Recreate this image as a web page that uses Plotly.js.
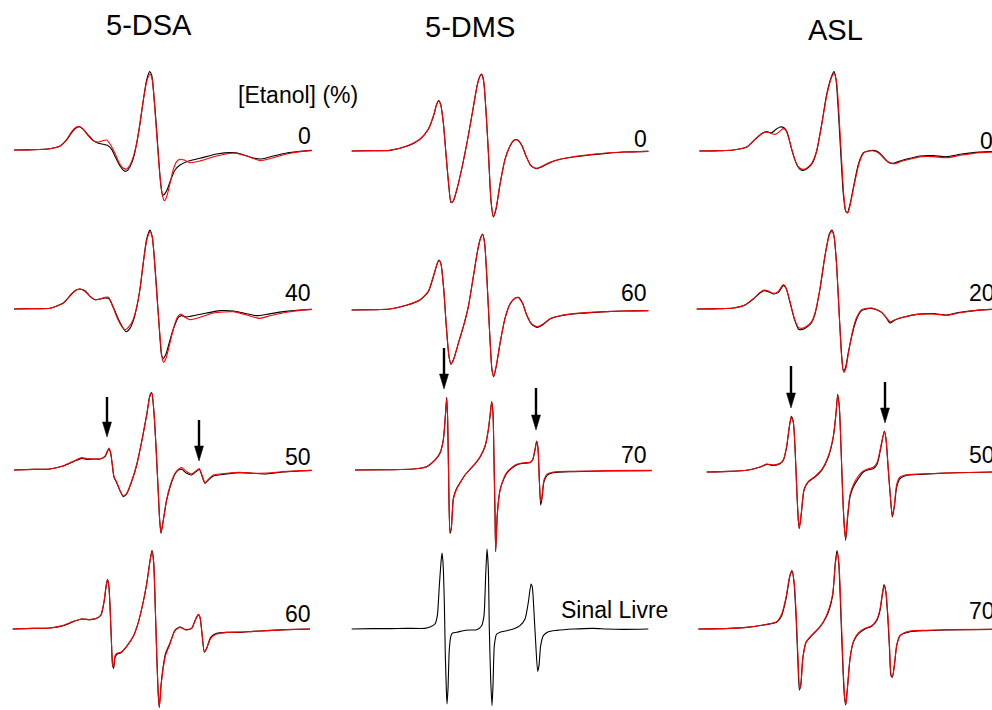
<!DOCTYPE html>
<html><head><meta charset="utf-8">
<script src="https://cdn.plot.ly/plotly-3.0.1.min.js"></script>
<style>html,body{margin:0;padding:0;background:#fff}#chart{width:992px;height:710px}</style>
</head><body><div id="chart"></div>
<script>
// EPR spectra: [campo (u.a.), intensidade (u.a.)] — exp = experimental (preto), fit = simulação (vermelho)
const dsa0_exp = [[42,0],[100,1],[150,4],[180,12],[200,30],[215,52],[228,66],[238,70],[250,62],[265,45],[280,28],[295,20],[310,17],[322,14],[335,2],[348,-25],[360,-48],[372,-62],[380,-63],[390,-50],[400,-25],[410,20],[420,80],[430,150],[440,210],[449,235],[455,225],[462,160],[470,60],[477,-40],[483,-110],[488,-135],[494,-132],[502,-118],[512,-90],[525,-60],[540,-45],[560,-35],[600,-25],[650,-12],[700,-8],[730,-14],[760,-24],[785,-27],[820,-18],[860,-9],[900,-4],[935,-1]];
const dsa0_fit = [[42,0],[100,1],[150,4],[180,12],[200,32],[215,55],[228,68],[238,70],[250,62],[265,42],[280,28],[295,24],[308,28],[320,30],[330,18],[345,-10],[358,-40],[370,-55],[380,-57],[390,-45],[400,-20],[410,20],[420,80],[430,150],[440,205],[450,228],[457,210],[464,130],[472,20],[480,-80],[487,-135],[493,-152],[500,-140],[510,-100],[520,-58],[530,-35],[540,-28],[552,-30],[570,-38],[600,-33],[650,-18],[700,-9],[740,-18],[780,-32],[810,-26],[860,-12],[900,-5],[935,-2]];
const dsa40_exp = [[42,0],[100,1],[150,2],[190,18],[215,45],[228,56],[238,60],[255,55],[270,38],[285,28],[300,30],[315,33],[328,30],[340,5],[355,-30],[368,-55],[378,-68],[390,-58],[400,-35],[410,5],[420,60],[430,140],[440,210],[450,237],[457,215],[464,140],[472,30],[478,-60],[485,-140],[490,-148],[498,-135],[508,-100],[520,-60],[535,-25],[545,-20],[560,-24],[590,-18],[620,-12],[660,-5],[700,-6],[740,-14],[770,-20],[800,-16],[850,-8],[900,-3],[935,-1]];
const dsa40_fit = [[42,0],[100,1],[150,2],[190,18],[215,46],[228,57],[240,60],[255,53],[270,38],[285,28],[300,30],[315,35],[325,35],[338,8],[352,-28],[365,-52],[374,-62],[385,-55],[398,-35],[410,5],[420,60],[430,140],[440,205],[450,232],[457,215],[464,135],[472,20],[480,-80],[486,-145],[491,-160],[498,-148],[508,-110],[520,-60],[532,-25],[542,-15],[555,-25],[570,-32],[600,-25],[640,-12],[700,-8],[740,-18],[780,-28],[810,-20],[860,-10],[900,-4],[935,-1]];
const dsa50_exp = [[42,0],[100,2],[150,3],[190,12],[220,25],[245,35],[260,32],[280,33],[300,33],[315,40],[322,55],[327,63],[332,50],[337,15],[342,-22],[350,-38],[360,-62],[370,-80],[380,-72],[395,-35],[410,15],[425,85],[440,165],[450,225],[455,232],[462,170],[468,70],[474,-50],[479,-150],[483,-190],[490,-150],[500,-90],[512,-45],[525,-12],[535,0],[545,2],[560,-10],[575,-15],[588,-5],[598,2],[605,-15],[615,-40],[625,-30],[640,-18],[680,-12],[720,-8],[760,-10],[800,-12],[850,-6],[900,-3],[935,-1]];
const dsa50_fit = [[42,0],[100,2],[150,3],[190,13],[220,26],[245,37],[260,34],[280,33],[300,33],[315,42],[322,57],[327,66],[332,52],[337,15],[342,-20],[350,-36],[360,-62],[370,-78],[380,-70],[395,-33],[410,15],[425,85],[440,165],[450,222],[456,230],[462,172],[468,70],[474,-50],[479,-150],[483,-188],[490,-150],[500,-88],[512,-42],[525,-10],[535,2],[545,7],[560,-5],[575,-12],[588,-3],[598,4],[605,-13],[615,-38],[625,-28],[640,-15],[680,-10],[720,-7],[760,-10],[800,-9],[850,-5],[900,-2],[935,-1]];
const dsa60_exp = [[38,0],[100,2],[150,3],[190,10],[220,22],[245,30],[270,28],[290,32],[303,42],[312,80],[318,125],[322,148],[326,135],[330,70],[334,-30],[338,-110],[341,-118],[345,-85],[352,-75],[362,-72],[380,-52],[400,-22],[412,10],[425,60],[440,135],[450,205],[456,236],[461,200],[466,60],[471,-100],[475,-200],[478,-236],[483,-170],[490,-110],[497,-72],[510,-42],[525,-3],[540,6],[558,-2],[575,2],[585,25],[595,43],[600,35],[606,-15],[613,-70],[620,-58],[632,-25],[650,-13],[680,-10],[720,-10],[760,-7],[800,-5],[860,-2],[930,0]];
const dsa60_fit = [[38,0],[100,2],[150,3],[190,11],[220,23],[245,30],[270,28],[290,32],[303,43],[312,82],[318,127],[322,146],[326,133],[330,70],[334,-30],[338,-108],[341,-112],[345,-80],[352,-72],[362,-70],[380,-52],[400,-22],[412,10],[425,60],[440,135],[450,203],[456,233],[461,200],[466,60],[471,-100],[475,-200],[478,-234],[483,-172],[490,-115],[497,-78],[510,-45],[525,-5],[540,5],[558,-3],[575,2],[585,25],[595,44],[600,36],[606,-12],[613,-68],[620,-58],[632,-28],[650,-15],[680,-10],[720,-9],[760,-7],[800,-5],[860,-2],[930,0]];

const dms0_exp = [[35,0],[100,1],[150,2],[200,14],[240,35],[265,65],[282,110],[290,140],[296,151],[302,140],[310,85],[318,-10],[326,-100],[333,-155],[340,-150],[352,-110],[367,-45],[382,30],[398,120],[412,200],[420,225],[425,231],[431,210],[438,120],[446,-20],[453,-150],[460,-198],[468,-175],[480,-100],[495,-25],[510,15],[522,32],[532,34],[545,18],[558,-15],[572,-43],[588,-53],[605,-48],[630,-35],[660,-25],[700,-18],[750,-12],[800,-7],[850,-3],[925,-1]];
const dms0_fit = [[35,0],[100,1],[150,2],[200,15],[240,36],[265,66],[282,111],[290,141],[296,150],[302,139],[310,84],[318,-10],[326,-100],[333,-153],[340,-149],[352,-110],[367,-45],[382,30],[398,120],[412,198],[420,224],[425,229],[431,208],[438,120],[446,-20],[453,-150],[460,-195],[468,-173],[480,-100],[495,-25],[510,15],[522,32],[532,33],[545,17],[558,-15],[572,-43],[588,-52],[605,-46],[630,-34],[660,-25],[700,-17],[750,-11],[800,-6],[850,-3],[925,-1]];
const dms60_exp = [[35,0],[100,1],[150,3],[200,14],[240,30],[265,55],[283,110],[292,140],[297,150],[303,138],[311,65],[319,-50],[327,-140],[333,-163],[341,-148],[355,-100],[370,-50],[385,10],[400,100],[414,185],[423,220],[428,228],[434,200],[441,90],[449,-70],[456,-180],[461,-200],[469,-168],[481,-95],[495,-25],[510,18],[525,35],[535,38],[548,20],[560,-15],[575,-43],[592,-52],[608,-45],[630,-27],[660,-18],[700,-12],[750,-8],[800,-5],[850,-3],[925,-2]];
const dms60_fit = [[35,0],[100,1],[150,3],[200,15],[240,31],[265,56],[283,111],[292,141],[297,149],[303,137],[311,64],[319,-50],[327,-140],[333,-161],[341,-147],[355,-100],[370,-50],[385,10],[400,100],[414,184],[423,219],[428,226],[434,199],[441,90],[449,-70],[456,-180],[461,-198],[469,-166],[481,-95],[495,-25],[510,18],[525,35],[535,37],[548,19],[560,-15],[575,-42],[592,-50],[608,-43],[630,-26],[660,-17],[700,-11],[750,-7],[800,-5],[850,-3],[925,-2]];
const dms70_exp = [[45,0],[150,1],[220,3],[260,10],[285,30],[300,50],[310,90],[316,160],[320,218],[323,150],[326,-30],[330,-190],[334,-175],[340,-85],[350,-55],[362,-35],[375,-15],[390,2],[405,18],[420,38],[435,70],[445,120],[451,170],[455,205],[459,170],[462,30],[465,-130],[467,-245],[472,-130],[480,-60],[490,-30],[500,-10],[515,5],[530,15],[550,20],[570,22],[578,30],[585,60],[590,87],[594,65],[598,-30],[602,-105],[606,-85],[612,-35],[622,-15],[640,-8],[700,-5],[800,-3],[935,-2]];
const dms70_fit = [[45,0],[150,1],[220,3],[260,10],[285,30],[300,52],[310,92],[316,162],[320,216],[323,150],[326,-30],[330,-185],[334,-172],[340,-88],[350,-57],[362,-36],[375,-15],[390,3],[405,19],[420,40],[435,72],[445,122],[451,172],[455,203],[459,170],[462,30],[465,-130],[467,-240],[472,-135],[480,-62],[490,-28],[500,-8],[515,7],[530,17],[550,22],[570,23],[578,31],[585,62],[590,86],[594,65],[598,-30],[602,-95],[606,-78],[612,-30],[622,-12],[640,-6],[700,-4],[800,-2],[935,-1]];
const dms_livre = [[35,0],[100,1],[150,1],[200,2],[255,2],[270,6],[285,15],[292,40],[298,130],[303,200],[306,228],[309,200],[313,80],[316,-80],[319,-180],[321,-225],[324,-180],[328,-60],[333,-20],[338,-12],[350,-10],[370,-5],[390,-3],[410,-2],[425,10],[432,40],[437,160],[441,240],[445,180],[448,0],[452,-150],[456,-230],[459,-170],[463,-50],[470,-15],[480,-10],[500,-5],[520,0],[540,10],[555,30],[565,80],[573,135],[577,125],[582,50],[587,-40],[593,-127],[597,-110],[602,-50],[610,-20],[625,-8],[650,-4],[700,0],[760,2],[800,0],[850,-1],[925,0]];

const asl0_exp = [[58,0],[120,1],[160,3],[200,12],[225,35],[245,52],[260,58],[275,55],[288,65],[300,72],[312,70],[322,55],[335,5],[348,-35],[360,-55],[372,-58],[385,-50],[398,-35],[410,0],[425,80],[440,170],[455,225],[462,238],[468,215],[475,120],[483,-20],[490,-130],[497,-180],[502,-185],[510,-160],[522,-100],[535,-40],[550,-5],[565,0],[580,2],[595,-3],[610,-18],[625,-33],[640,-37],[660,-30],[690,-22],[720,-15],[760,-14],[800,-17],[840,-10],[880,-5],[936,-2]];
const asl0_fit = [[58,0],[120,1],[160,3],[200,12],[225,35],[245,52],[260,57],[275,52],[287,50],[298,58],[310,67],[318,62],[330,25],[343,-22],[355,-48],[368,-55],[382,-50],[396,-35],[410,0],[425,78],[440,165],[455,222],[463,232],[470,205],[477,110],[485,-30],[492,-140],[498,-183],[504,-185],[512,-155],[525,-90],[538,-35],[552,-5],[567,0],[582,0],[597,-7],[612,-22],[628,-36],[642,-38],[665,-31],[695,-23],[725,-17],[760,-17],[800,-20],[840,-13],[880,-7],[936,-3]];
const asl20_exp = [[50,0],[120,1],[160,3],[195,12],[220,30],[240,48],[252,55],[265,52],[280,45],[295,50],[310,70],[318,62],[330,20],[343,-30],[355,-60],[365,-62],[380,-55],[395,-40],[405,-15],[420,60],[435,160],[448,225],[456,237],[462,220],[470,130],[478,-20],[485,-140],[490,-185],[496,-178],[505,-130],[518,-70],[530,-30],[545,-5],[560,0],[575,2],[590,-2],[605,-10],[618,-25],[630,-42],[645,-33],[670,-25],[710,-16],[760,-14],[800,-18],[840,-10],[890,-4],[936,-1]];
const asl20_fit = [[50,0],[120,1],[160,3],[195,12],[220,31],[240,50],[252,57],[265,54],[280,47],[295,53],[310,73],[318,64],[330,22],[343,-28],[355,-55],[365,-58],[380,-52],[395,-38],[405,-12],[420,62],[435,160],[448,222],[456,233],[462,218],[470,128],[478,-25],[485,-145],[491,-190],[497,-180],[506,-128],[518,-65],[530,-25],[545,-2],[560,2],[575,3],[590,-2],[605,-10],[618,-25],[630,-38],[645,-32],[670,-24],[710,-16],[760,-15],[800,-19],[840,-11],[890,-4],[936,-1]];
const asl50_exp = [[80,0],[150,2],[200,5],[240,15],[260,23],[280,20],[300,25],[310,35],[320,75],[328,135],[334,167],[340,150],[345,75],[350,-45],[355,-145],[358,-170],[364,-125],[372,-55],[385,-30],[405,-15],[425,5],[445,45],[460,105],[468,175],[473,233],[478,195],[483,75],[488,-65],[493,-165],[497,-205],[503,-135],[510,-75],[520,-45],[535,-20],[550,0],[565,7],[580,10],[592,25],[603,75],[613,123],[618,100],[625,5],[632,-85],[637,-135],[643,-105],[650,-45],[660,-20],[680,-10],[720,-7],[800,-3],[936,0]];
const asl50_fit = [[80,0],[150,2],[200,5],[240,15],[260,24],[280,21],[300,26],[310,37],[320,78],[328,137],[334,165],[340,148],[345,75],[350,-45],[355,-145],[358,-168],[364,-122],[372,-52],[385,-28],[405,-13],[425,7],[445,48],[460,108],[468,176],[473,230],[478,195],[483,75],[488,-65],[493,-165],[497,-200],[503,-130],[510,-68],[520,-38],[535,-12],[550,3],[565,10],[580,14],[592,30],[603,80],[613,122],[618,98],[625,5],[632,-85],[637,-132],[643,-100],[650,-38],[660,-15],[680,-8],[720,-6],[800,-3],[936,0]];
const asl70_exp = [[55,0],[150,2],[200,5],[250,12],[290,20],[305,40],[318,90],[330,160],[336,175],[342,140],[348,40],[353,-80],[358,-183],[362,-170],[368,-90],[378,-40],[395,-20],[415,0],[430,20],[445,50],[458,100],[466,200],[471,235],[476,200],[482,60],[488,-100],[493,-200],[497,-228],[502,-180],[510,-90],[520,-40],[535,-15],[555,0],[575,8],[590,25],[600,55],[608,110],[612,133],[617,115],[623,40],[628,-50],[633,-140],[637,-145],[643,-110],[650,-50],[660,-20],[690,-8],[740,-5],[800,-3],[936,-1]];
const asl70_fit = [[55,0],[150,2],[200,5],[250,12],[290,22],[305,45],[318,95],[330,162],[337,172],[343,135],[349,35],[354,-85],[359,-180],[363,-165],[369,-85],[379,-38],[395,-18],[415,2],[430,22],[445,55],[458,105],[466,195],[472,228],[477,195],[483,55],[489,-105],[494,-205],[498,-225],[503,-170],[511,-80],[521,-35],[535,-12],[555,2],[575,10],[590,28],[600,60],[608,112],[613,130],[618,108],[624,35],[629,-60],[634,-140],[638,-140],[644,-100],[651,-45],[662,-18],[690,-6],[740,-4],[800,-2],[936,-1]];

const columnTitles = ['5-DSA', '5-DMS', 'ASL'];
const rowLabels = [['0','40','50','60'], ['0','60','70','Sinal Livre'], ['0','20','50','70']];
const expSeries = [[dsa0_exp, dsa40_exp, dsa50_exp, dsa60_exp], [dms0_exp, dms60_exp, dms70_exp, dms_livre], [asl0_exp, asl20_exp, asl50_exp, asl70_exp]];
const fitSeries = [[dsa0_fit, dsa40_fit, dsa50_fit, dsa60_fit], [dms0_fit, dms60_fit, dms70_fit, null], [asl0_fit, asl20_fit, asl50_fit, asl70_fit]];

// ---- layout (pixels of the 992x710 page) ----
const W = 992, H = 710;
const baseline = [[150,309,470,629],[151,310,470,629],[151,309,472,629]];
const px = (x) => x / W, py = (y) => 1 - y / H;
const axNames = ['x', 'x2', 'x3'];

const traces = [];
for (let c = 0; c < 3; c++) {
  for (let r = 0; r < 4; r++) {
    const off = -3 * baseline[c][r];
    const e = expSeries[c][r];
    traces.push({x: e.map(p => p[0]), y: e.map(p => p[1] + off), xaxis: axNames[c], yaxis: 'y', type: 'scatter', mode: 'lines',
      line: {color: '#000000', width: 1.1, shape: 'spline', smoothing: 0.6}, hoverinfo: 'skip', showlegend: false});
    const f = fitSeries[c][r];
    if (f) traces.push({x: f.map(p => p[0]), y: f.map(p => p[1] + off), xaxis: axNames[c], yaxis: 'y', type: 'scatter', mode: 'lines',
      line: {color: '#ff0000', width: 1.1, shape: 'spline', smoothing: 0.6}, hoverinfo: 'skip', showlegend: false});
  }
}

const font = 'Liberation Sans, Arial, sans-serif';
const annotations = [];
const titlePos = [[149, 25], [470, 27], [835, 30]];
columnTitles.forEach((t, i) => annotations.push({text: t, xref: 'paper', yref: 'paper', x: px(titlePos[i][0]), y: py(titlePos[i][1]), xanchor: 'center', yanchor: 'middle', showarrow: false, font: {family: font, size: 29, color: '#000'}}));
annotations.push({text: '[Etanol] (%)', xref: 'paper', yref: 'paper', x: px(298), y: py(95), xanchor: 'center', yanchor: 'middle', showarrow: false, font: {family: font, size: 23, color: '#000'}});
const labelY = [[136, 293, 457, 614], [139, 293, 455, 610], [141, 293, 455, 611]];
const labelX = [[313,313,313,313], [649,649,649,670], [978,967,967,967]];
for (let c = 0; c < 3; c++) for (let r = 0; r < 4; r++) {
  const left = c === 2;
  annotations.push({text: rowLabels[c][r], xref: 'paper', yref: 'paper', x: px(labelX[c][r]), y: py(labelY[c][r]),
    xanchor: left ? 'left' : 'right', yanchor: 'middle', showarrow: false, font: {family: font, size: 23, color: '#000'}});
}

// arrows: [x, top, tip]
const arrowMarks = [[107,397,437],[199,420,461],[444,348,389],[536,388,430],[791,366,408],[885,382,423]];
const shapes = [];
arrowMarks.forEach(([x, t, tip]) => {
  shapes.push({type: 'line', xref: 'paper', yref: 'paper', x0: px(x), x1: px(x), y0: py(t), y1: py(tip - 10), line: {color: '#000', width: 2.4}});
  shapes.push({type: 'path', xref: 'paper', yref: 'paper', path: `M ${px(x-4.5)} ${py(tip-15)} L ${px(x+4.5)} ${py(tip-15)} L ${px(x)} ${py(tip)} Z`, fillcolor: '#000', line: {color: '#000', width: 0.5}});
});

const hidden = {visible: false, showgrid: false, zeroline: false, fixedrange: true};
const layout = {
  width: W, height: H, margin: {l: 0, r: 0, t: 0, b: 0}, paper_bgcolor: '#fff', plot_bgcolor: 'rgba(0,0,0,0)', showlegend: false,
  xaxis: Object.assign({domain: [0, 330 / W], range: [0, 990], anchor: 'y'}, hidden),
  xaxis2: Object.assign({domain: [340 / W, 670 / W], range: [0, 990], anchor: 'y'}, hidden),
  xaxis3: Object.assign({domain: [680 / W, 1], range: [0, 936], anchor: 'y'}, hidden),
  yaxis: Object.assign({domain: [0, 1], range: [-3 * H, 0]}, hidden),
  annotations, shapes
};
Plotly.newPlot('chart', traces, layout, {displayModeBar: false, staticPlot: true});
</script></body></html>
